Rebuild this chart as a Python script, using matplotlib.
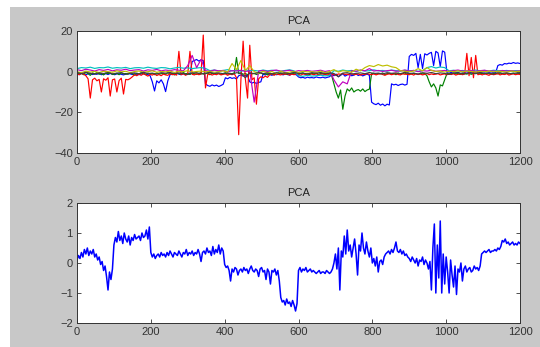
import numpy as np
import matplotlib
matplotlib.use("Agg")
import matplotlib.pyplot as plt
from matplotlib.patches import Rectangle

plt.rcParams['font.family'] = ['Liberation Sans', 'DejaVu Sans']

# ---------------- data: top panel (several PCA components) ----------------
blue_vals = [
    -1.0, -1.5, -0.8, -1.2, -1.6, -1.0, -0.9, -1.4, -1.1, -1.3, -0.8, -1.5, -1.2, -1.0, -1.4, -0.9,
    -1.2, -1.5, -1.1, -1.0, -1.3, -1.6, -1.2, -0.9, -1.1, -1.4, -1.0, -1.3, -1.5, -1.1, -0.9, -1.2, -1.4,
    -2.0, -5.0, -9.5, -4.5, -5.5, -4.0, -6.0, -9.8, -4.5,
    -1.5, -1.0, -1.3, -0.8, -1.2, -1.5, -1.0, -1.3, -1.1, -0.9,
    5.0, 5.5, 6.0, 5.2, 5.8, 5.5,
    -6.0, -6.8, -7.2, -6.5, -7.0, -6.6, -7.3, -6.8, -6.2,
    -3.0, -3.5, -2.8, -3.3, -3.0, -3.6,
    -2.0, -1.6, -2.2, -1.8, -2.0,
    -5.0, -5.6, -5.2, -5.8, -5.3, -5.0,
    -1.2, -1.6, -1.0, -1.4, -1.8, -1.1, -1.5, -1.3, -1.0, -1.6, -1.2, -1.4, -1.7, -1.1, -1.3, -1.5,
    -2.6, -3.0, -2.8, -3.2, -2.7, -3.0, -2.9, -3.1, -2.6, -2.9, -3.0, -2.7, -3.1, -2.8, -2.5,
    -1.5, -2.0, -1.2, -2.5, -1.8, -1.0, -2.2, -1.6, -1.3, -2.0, -1.7, -1.1, -1.9, -1.4, -2.1, -1.6, -1.2, -1.8,
    -15.0, -15.8, -16.2, -15.5, -16.5, -15.9, -16.8, -16.0, -16.4,
    -6.0, -6.5, -6.2, -6.8, -6.3, -6.1, -6.6, -6.2,
    7.5, 8.5, 8.0, 9.0, 2.0, 8.5, 1.5, 8.8, 8.2, 9.0,
    9.5, 3.0, 10.0, 9.2, 2.5, 10.2, 9.6,
    -0.5, -0.8, -0.3, -1.0, -0.6, -0.4, -0.9, -0.7, -0.5, -0.8, -0.3, -0.6, -1.0, -0.5, -0.7, -0.4,
    -0.8, -0.6, -0.9, -0.5, -0.7, -0.4, -0.6,
    3.0, 3.5, 3.2, 4.0, 3.8, 4.2, 4.0, 4.5, 4.1, 4.3, 4.0,
]

green_vals = [
    -0.5, -1.2, -0.8, -1.5, -0.3, -1.0, -1.8, -0.6, -1.1, -0.4,
    -1.3, -0.9, -1.6, -0.7, -1.0, -0.5, -1.4, -1.2, -0.8, -1.5,
    -0.6, -1.1, -0.9, -1.3, -0.4, -1.0, -1.7, -0.8, -1.2, -0.5,
    -1.0, -1.4, -0.7, -1.1, -0.9, -1.5, -0.6, -1.2, -1.0, -0.8,
    -1.3, -0.5, -1.1, -0.9, -1.6, -0.7, -1.0, -1.2, -0.4, -1.1,
    -0.8, -1.4, -0.6, -1.0, -1.3, -0.9, -0.5, -1.2, -1.0, -0.7,
    -1.5, -0.8, -1.1, -0.6, -1.0, -1.3, -0.9, -0.5, -1.2, -0.8,
    -1.0, -0.6,
    7.0,
    -1.0, -0.6, -1.3, -0.9, -1.5, -0.7, -1.1, -0.8, -1.4, -1.0,
    -0.5, -1.2, -0.9, -1.6, -0.7, -1.0, -1.3, -0.8, -1.1, -0.6,
    -1.2, -0.9, -1.4, -1.0, -0.7, -1.1, -0.8, -1.3, -0.9, -0.6,
    -1.2, -1.0, -1.5, -0.8, -1.1, -0.7, -1.3, -0.9, -1.0, -1.4,
    -0.8, -1.1, -2.0,
    -6.0, -10.0, -13.0, -9.0, -18.5, -12.0,
    -8.5, -9.5, -8.0, -10.0, -9.2, -8.8, -9.6, -8.5, -9.8, -9.0, -8.6,
    -1.0, -0.7, -1.3, -0.9, -1.1, -0.6, -1.4, -1.0, -0.8, -1.2, -0.9, -1.5, -0.7,
    -1.1, -1.0, -0.6, -1.3, -0.9, -1.2, -0.8, -1.0, -1.4, -0.7, -1.1, -0.9, -2.0,
    -5.0, -7.5, -6.0, -8.0, -12.0, -6.5, -7.0, -4.0,
    -1.0, -0.8, -1.2, -0.6, -1.1, -0.9, -1.4, -0.7, -1.0, -1.2, -0.8, -1.3, -0.9, -0.6, -1.1, -1.0, -0.8,
    -1.2, -0.7, -1.0, -1.3, -0.9, -0.8, -1.1, -0.6, -1.0, -1.2, -0.8, -1.1, -0.9, -0.7, -1.2, -1.0, -0.8,
]

red_vals = [
    -1.0, -1.5, -0.8, -1.2, -2.0,
    -3.5, -13.0, -4.0, -3.2, -4.5, -3.8, -10.0, -3.5, -4.2, -3.0, -12.0, -4.0, -3.6, -10.0, -4.4,
    -3.2, -11.0, -3.8, -4.0, -3.4, -2.5,
    -1.5, -2.0, -1.2, -1.8, -1.0, -1.6, -2.2, -1.3, -1.7, -1.1, -1.9, -1.4, -2.0, -1.2, -1.6, -1.8,
    -1.0, -1.5, -1.3, -1.7,
    10.0,
    -1.5, -1.0, -1.8, -1.2,
    10.0,
    -1.3, -1.6, -1.0, -1.5, -1.2,
    18.0, -8.0,
    -1.4, -1.0, -1.7, -1.2, -1.5, -0.9, -1.6, -1.3, -1.1, -1.8, -1.2, -1.5, -1.0,
    -3.0, -31.0, -4.0, 15.0, -3.5, -13.0, 13.0, -4.0, -3.0, -16.0, -3.5,
    -2.5, -3.0, -2.2, -2.8, -1.5, -1.2, -1.8, -1.0, -1.4, -1.6,
    -1.1, -1.3, -0.9, -1.7, -1.2, -1.5, -1.0, -1.4, -1.8, -1.1,
    -1.3, -1.6, -0.9, -1.2, -1.5, -1.0, -1.7, -1.3, -1.1, -1.4,
    -1.6, -1.0, -1.2, -1.5, -1.8, -1.1, -1.3, -0.9, -1.4, -1.2,
    -1.6, -1.0, -1.5, -1.3, -1.1, -1.7, -1.2, -1.4, -0.9, -1.3,
    -1.5, -1.1, -1.6, -1.2, -1.0, -1.4, -1.8, -1.3, -1.1, -1.5,
    -1.2, -0.9, -1.4, -1.6, -1.0, -1.3, -1.2, -1.5, -1.1, -1.7,
    -1.0, -1.4, -1.2, -1.6, -1.3, -0.9, -1.5, -1.1, -1.4, -1.2,
    -1.0, -1.6, -1.3, -1.1, -1.5, -1.2, -1.4, -1.0, -1.7, -1.3,
    -1.1, -1.5, -1.2,
    9.0, -2.0, 7.0, -3.0, 8.0, -1.5,
    -1.2, -1.6, -1.0, -1.4, -1.8, -1.1, -1.5, -1.3, -0.9, -1.6, -1.2, -1.4, -1.0, -1.7, -1.3,
    -1.1, -1.5, -1.2, -1.4,
]

cyan_vals = [
    1.5, 2.0, 1.8, 2.2, 1.6, 2.0, 1.9, 2.3, 1.7, 2.0, 1.8, 2.1, 1.5, 1.9, 2.0, 1.7, 2.2, 1.8, 1.6, 2.0,
    1.9, 1.4, 1.8, 2.1, 1.7, 1.9, 1.5, 1.8, 2.0, 1.6,
    0.5, 0.8, 0.3, 0.6, 1.0, 0.4, 0.7, 0.2, 0.9, 0.5, 0.6, 0.3, 0.8, 0.4, 0.7, 0.5, 0.2, 0.6, 0.9, 0.4,
    -2.0, -2.3, -1.8, -2.2, -2.0, -1.7, -2.1, -1.9,
    0.5, 0.2, 0.8, 0.4, 0.6, 0.1, 0.7, 0.3, 0.5, 0.9, 0.4, 0.6, 0.2, 0.8, 0.5, 0.3, 0.7, 0.4, 0.6, 0.2, 0.5,
    2.0, 2.5, 1.8, 2.3, 2.0,
    0.4, 0.7, 0.3, 0.6, 0.2, 0.5, 0.8, 0.4, 0.6, 0.3, 0.7, 0.5, 0.4, 0.6, 0.3, 0.5, 0.4,
]

magenta_vals = [
    1.0, 0.5, 1.2, 0.8, 0.3, 1.0, 0.6, 1.1, 0.4, 0.9, 0.7, 1.2, 0.5, 0.8, 1.0, 0.3, 0.9, 0.6, 1.1, 0.4,
    0.8, 0.5, 1.0, 0.7, 0.4,
    3.0, 8.0, 2.0, 6.0,
    0.5, 0.2, 0.8, 0.4, 0.6, -0.2, 0.5, 0.3, 0.7, 0.1, 0.4,
    -15.0,
    0.3, 0.6, 0.1, 0.5, 0.8, 0.2, 0.4, 0.7, 0.0, 0.5, 0.3, 0.6, 0.2, 0.4, 0.7, 0.1, 0.5,
    -4.0, -7.5, -5.0, -6.0,
    0.5, 0.2, 0.8, 0.4, 1.5, 0.3, 0.6, 0.1, 0.5, 0.7, 0.2, 0.4, 0.8, 0.3, 0.6, 0.0, 0.5, 0.3, 0.7, 0.2,
    0.4, 0.6, 0.1, 0.5, 0.8, 0.3, 0.4, 0.6, 0.2, 0.5, 0.7, 0.3, 0.4, 0.1, 0.6, 0.3, 0.5, 0.2, 0.4,
]

yellow_vals = [
    0.0, -0.5, 0.3, -0.2, 0.1, -0.4, 0.2, 0.0, -0.3, 0.4, -0.1, 0.2, -0.5, 0.1, 0.3, -0.2, 0.0, 0.4,
    -0.3, 0.1, -0.1, 0.3, -0.4, 0.2, 0.0, 0.5, -0.2, 0.1, 0.3, -0.1, 0.2, -0.3, 0.0, 0.4, -0.2,
    4.0, 1.0, 5.5, 0.5, 3.0,
    0.0, -0.8, 0.2, -0.5, 0.1, -1.0, 0.3, -0.6, -0.2, 0.1, -0.4, 0.2, -0.1, 0.0, -0.3, 0.3, -0.5, 0.1,
    1.0, -0.2, 0.5, 0.2, -0.3, 1.2, 0.4,
    2.0, 3.0, 2.5, 3.5, 2.8, 3.2, 2.4, 2.0,
    0.5, 0.2, -0.1, 0.3, 1.5, 0.4, 2.0, 0.6, 0.1, 0.3, -0.2, 0.2, 0.0, 0.4, -0.1, 0.3, 0.1, -0.2,
    0.2, 0.0, 0.3, -0.1, 0.2, 0.1, -0.2, 0.3, 0.0, 0.2,
]

dark_vals = [
    -0.5, -1.0, -0.3, -0.8, -1.2, -0.6, -0.9, -0.4, -1.1, -0.7,
    -0.5, -1.3, -0.8, -0.6, -1.0, -0.3, -0.9, -0.7, -1.2, -0.5,
    -0.8, -0.4, -1.0, -0.6, -0.9, -1.4, -0.7, -0.5, -1.1, -0.8,
    -0.3, -0.9, -0.6, -1.0, -0.7, -1.3, -0.5, -0.8, -3.0, -0.6,
    -1.0, -0.4, -0.9, -0.7, -1.2, -0.5, -0.8, -0.6, -1.0, -0.3,
    -0.9, -0.7, -1.1, -0.5, -0.8, -0.4, -1.0, -0.6, -0.9, -2.5,
    -0.7, -0.5, -1.2, -0.8, -0.6, -1.0, -0.4, -0.9, -0.7, -1.1,
    -0.5, -0.8, -0.6, -1.0, -0.3, -0.9, -0.7, -1.2, -0.5, -0.8,
    -0.4, -1.0, -0.6, -0.9, -1.3, -0.7, -0.5, -1.1, -0.8, -0.6,
    -1.0, -0.4, -0.9, -0.7, -1.2, -0.5, -0.8, -0.6, -1.0, -0.7,
    -0.8,
]

# ---------------- data: bottom panel (first component) ----------------
pc1_vals = [
    0.1, 0.25, 0.15, 0.35, 0.2, 0.45, 0.3, 0.5, 0.25, 0.4, 0.3, 0.45, 0.2,
    0.3, 0.1, 0.2, -0.05, 0.05, -0.25, -0.1, -0.45, -0.9, -0.3, -0.55, -0.2,
    0.6, 0.85, 0.7, 1.05, 0.75, 0.9, 0.65, 1.0, 0.8, 0.7, 0.9, 0.6, 0.85, 0.75, 0.95, 0.8, 0.85,
    0.9, 0.75, 1.0, 0.85, 0.9, 1.1, 0.8, 1.2,
    0.35, 0.2, 0.3, 0.15, 0.25, 0.3, 0.2, 0.35, 0.25, 0.3,
    0.2, 0.35, 0.25, 0.4, 0.3, 0.2, 0.35, 0.3, 0.25, 0.4,
    0.3, 0.2, 0.35, 0.3, 0.45, 0.25, 0.35, 0.3, 0.4, 0.25,
    0.35, 0.3, 0.45, 0.3, 0.05, 0.35, 0.4, 0.3, 0.5, 0.35,
    0.4, 0.25, 0.55, 0.3, 0.45, 0.35, 0.6, 0.3, 0.5, 0.4,
    -0.05, -0.15, -0.1, -0.25, -0.6, -0.2, -0.3, -0.15, -0.2, -0.4,
    -0.25, -0.2, -0.3, -0.15, -0.25, -0.2, -0.35, -0.2, -0.1, -0.25,
    -0.3, -0.2, -0.25, -0.45, -0.2, -0.15, -0.3, -0.25, -0.55, -0.2,
    -0.3, -0.7, -0.25, -0.3, -0.2, -0.4, -0.25, -0.6,
    -1.15, -1.3, -1.25, -1.4, -1.2, -1.35, -1.3, -1.45, -1.25, -1.4, -1.6, -1.35,
    -0.25, -0.15, -0.3, -0.2, -0.25, -0.15, -0.3, -0.25, -0.2, -0.3, -0.25, -0.3,
    -0.35, -0.3, -0.25, -0.35, -0.3, -0.3, -0.35, -0.25, -0.3, -0.35, -0.3, -0.2,
    0.0, 0.3, -0.2, 0.5, -0.9, 0.4, 0.2, 0.9, 0.3, 1.1,
    0.4, 0.6, 0.2, 0.5, 0.8, 0.3, -0.4, 0.6, 0.4, 1.0,
    0.5, 0.3, 0.7, 0.4, 0.2, 0.5,
    0.0, 0.15, -0.1, 0.2, -0.3, 0.05, 0.1, -0.05, 0.2, 0.3,
    0.35, 0.4, 0.3, 0.45, 0.35, 0.5, 0.7, 0.4, 0.35, 0.45, 0.3, 0.4, 0.25, 0.3, 0.2,
    0.15, 0.05, 0.2, 0.1, 0.0, 0.15, -0.1, 0.1, 0.05, 0.2, -0.05, 0.1, 0.0, -0.2, 0.05,
    -0.9, 0.5, 1.3, -1.0, 0.6, -0.5, 1.4, -1.0, 0.3, -0.7, 0.2,
    -0.3, -1.0, 0.1, -0.4, -0.8, -0.1, -1.05, -0.2, -0.3, 0.0, -0.6, -0.2, -0.1, -0.3, -0.2,
    -0.15, -0.3, -0.25, -0.1, -0.2, -0.15, -0.25, -0.1,
    0.3, 0.35, 0.4, 0.35, 0.4, 0.45, 0.35, 0.4, 0.4, 0.45, 0.4, 0.5, 0.45, 0.55,
    0.75, 0.7, 0.8, 0.65, 0.7, 0.6, 0.65, 0.7, 0.6, 0.65, 0.6, 0.7, 0.65,
]

top_series = [
    (blue_vals, (0, 0, 1)),
    (green_vals, (0, 0.5, 0)),
    (red_vals, (1, 0, 0)),
    (cyan_vals, (0, 0.75, 0.75)),
    (magenta_vals, (0.75, 0, 0.75)),
    (yellow_vals, (0.75, 0.75, 0)),
    (dark_vals, (0.25, 0.25, 0.25)),
]

x_max = 1200
x_ticks = [0, 200, 400, 600, 800, 1000, 1200]
top_yticks = [-40, -20, 0, 20]
bot_yticks = [-2, -1, 0, 1, 2]
title_text = "PCA"

W, H = 540, 347
fig = plt.figure(figsize=(W / 100, H / 100), dpi=100, facecolor='white')
fig.patches.append(Rectangle((10 / W, 0), 1 - 10 / W, 1 - 7 / H, transform=fig.transFigure,
                             facecolor='#c8c8c8', edgecolor='none', zorder=-10))

ax1 = fig.add_axes([77 / W, 1 - 153 / H, 443 / W, 122 / H])
ax2 = fig.add_axes([77 / W, 1 - 323 / H, 443 / W, 120 / H])

for vals, col in top_series:
    xs = np.linspace(0, x_max, len(vals))
    ax1.plot(xs, vals, color=col, lw=0.85)

xs = np.linspace(0, x_max, len(pc1_vals))
ax2.plot(xs, pc1_vals, color=(0, 0, 1), lw=1.1)

for ax, yt in ((ax1, top_yticks), (ax2, bot_yticks)):
    ax.set_xlim(0, x_max)
    ax.set_ylim(yt[0], yt[-1])
    ax.set_xticks(x_ticks)
    ax.set_yticks(yt)
    ax.set_facecolor('white')
    ax.tick_params(direction='in', top=True, right=True, length=3, width=0.6,
                   labelsize=8, colors='#333333', pad=3)
    for sp in ax.spines.values():
        sp.set_color('#333333')
        sp.set_linewidth(0.7)
    ax.set_title(title_text, fontsize=8, color='#222222', pad=5)

fig.savefig("out.png", dpi=100, facecolor=fig.get_facecolor())
